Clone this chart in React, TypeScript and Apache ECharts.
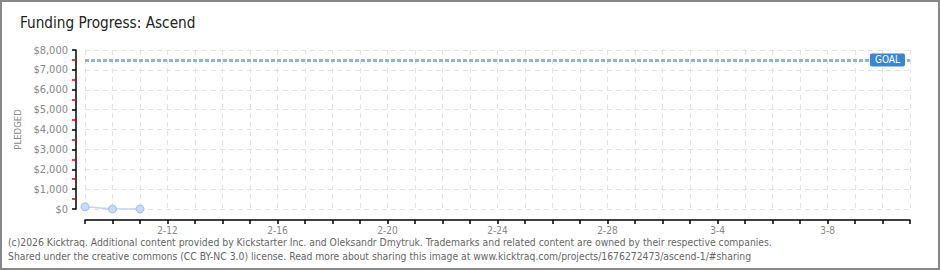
import React, { useEffect, useRef } from "react";
import * as echarts from "echarts";

const categories = [
  "2-9", "2-10", "2-11", "2-12", "2-13", "2-14", "2-15", "2-16", "2-17", "2-18",
  "2-19", "2-20", "2-21", "2-22", "2-23", "2-24", "2-25", "2-26", "2-27", "2-28",
  "3-1", "3-2", "3-3", "3-4", "3-5", "3-6", "3-7", "3-8", "3-9", "3-10", "3-11",
];
const pledged = [110, 0, 0];
const goal = 7500;
const yTicks = { min: 0, max: 8000, interval: 1000 };
const titleText = "Funding Progress: Ascend";
const footer1 =
  "(c)2026 Kicktraq. Additional content provided by Kickstarter Inc. and Oleksandr Dmytruk. Trademarks and related content are owned by their respective companies.";
const footer2 =
  "Shared under the creative commons (CC BY-NC 3.0) license. Read more about sharing this image at www.kicktraq.com/projects/1676272473/ascend-1/#sharing";

const FONT = '"DejaVu Sans Condensed", "Liberation Sans Narrow", "DejaVu Sans", sans-serif';

export default function App() {
  const ref = useRef<HTMLDivElement>(null);
  useEffect(() => {
    if (!ref.current) return;
    const chart = echarts.init(ref.current, null, { renderer: "svg" });
    chart.setOption({
      animation: false,
      backgroundColor: "#ffffff",
      textStyle: { fontFamily: FONT },
      grid: { left: 85, right: 30, top: 50, bottom: 61, containLabel: false },
      graphic: [
        {
          type: "rect",
          shape: { x: 1, y: 1, width: 938, height: 268 },
          style: { fill: "none", stroke: "#888888", lineWidth: 2 },
          silent: true,
        },
        {
          type: "text",
          left: 20,
          top: 15,
          style: { text: titleText, font: `15.2px ${FONT}`, fill: "#222222" },
        },
        {
          type: "text",
          left: 8,
          top: 237,
          style: { text: footer1, font: `10.3px ${FONT}`, fill: "#666666" },
        },
        {
          type: "text",
          left: 8,
          top: 251,
          style: { text: footer2, font: `10.3px ${FONT}`, fill: "#666666" },
        },
      ],
      xAxis: {
        type: "category",
        data: categories,
        boundaryGap: false,
        offset: 11,
        axisLine: { onZero: false, lineStyle: { color: "#000000", width: 1.5 } },
        axisTick: { interval: 0, length: 4, lineStyle: { color: "#000000", width: 1.5 } },
        axisLabel: {
          interval: (i: number) => i % 4 === 3,
          color: "#888888",
          fontSize: 10,
          margin: 5,
          fontFamily: FONT,
        },
        splitLine: {
          show: true,
          interval: 0,
          lineStyle: { color: "#e4e4e4", type: [5, 4], width: 1 },
        },
      },
      yAxis: {
        type: "value",
        min: yTicks.min,
        max: yTicks.max,
        interval: yTicks.interval,
        offset: 9,
        name: "PLEDGED",
        nameLocation: "middle",
        nameRotate: 90,
        nameGap: 54,
        nameTextStyle: { color: "#888888", fontSize: 9.5, fontFamily: FONT },
        axisLine: { show: true, onZero: false, lineStyle: { color: "#000000", width: 1.5 } },
        axisTick: { show: true, length: 4, lineStyle: { color: "#000000", width: 1.5 } },
        minorTick: { show: true, splitNumber: 2, length: 4, lineStyle: { color: "#dd0000", width: 1.5 } },
        axisLabel: {
          color: "#888888",
          fontSize: 11,
          margin: 8,
          fontFamily: FONT,
          formatter: (v: number) => "$" + v.toLocaleString("en-US"),
        },
        splitLine: { show: true, lineStyle: { color: "#e4e4e4", type: [5, 4], width: 1 } },
      },
      series: [
        {
          type: "line",
          data: pledged,
          symbol: "circle",
          symbolSize: 8,
          itemStyle: { color: "#c6dcf6", borderColor: "#9dbde3", borderWidth: 1 },
          lineStyle: { color: "#bcd5f2", width: 1.5 },
          markLine: {
            silent: true,
            symbol: "none",
            data: [{ yAxis: goal }],
            lineStyle: { color: "#8fb2de", type: [4, 2], width: 3 },
            label: {
              show: true,
              position: "insideEnd",
              distance: [5, 0],
              formatter: "GOAL",
              color: "#ffffff",
              backgroundColor: "#3a86d4",
              borderRadius: 2,
              padding: [2, 5, 1, 5],
              fontSize: 10,
              fontFamily: FONT,
            },
          },
        },
      ],
    });
    return () => chart.dispose();
  }, []);
  return (
    <div
      ref={ref}
      style={{ position: "fixed", left: 0, top: 0, width: 940, height: 270 }}
    />
  );
}
